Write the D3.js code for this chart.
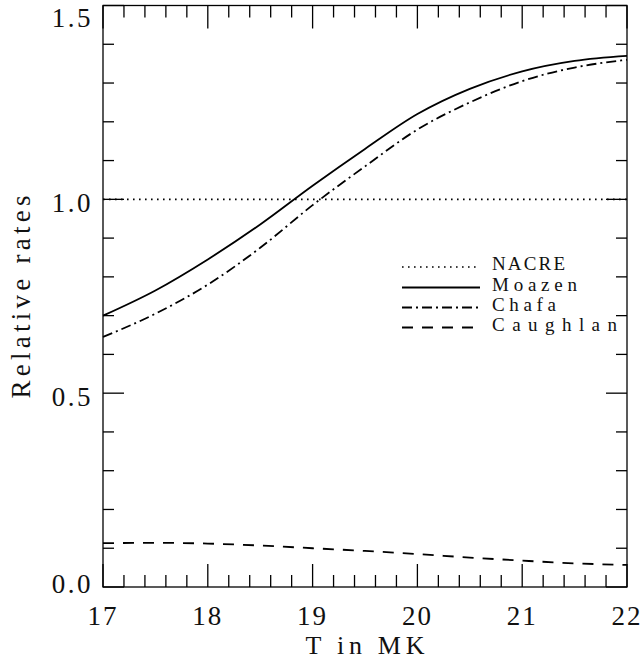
<!DOCTYPE html>
<html><head><meta charset="utf-8">
<script src="https://cdn.jsdelivr.net/npm/d3@7"></script>
<style>body{margin:0;background:#fff}svg{display:block}text{font-family:"Liberation Serif",serif;fill:#111}</style>
</head><body>
<script>
const temps    = [17, 17.5, 18, 18.5, 19, 19.5, 20, 20.5, 21, 21.5, 22];
const nacre    = [1, 1, 1, 1, 1, 1, 1, 1, 1, 1, 1];
const moazen   = [0.700, 0.765, 0.845, 0.935, 1.035, 1.130, 1.220, 1.285, 1.330, 1.357, 1.370];
const chafa    = [0.645, 0.705, 0.780, 0.875, 0.985, 1.085, 1.180, 1.250, 1.305, 1.340, 1.360];
const caughlan = [0.113, 0.114, 0.112, 0.107, 0.100, 0.093, 0.085, 0.076, 0.068, 0.061, 0.057];
const seriesNames = ["NACRE", "Moazen", "Chafa", "Caughlan"];
const xTicks = [17, 18, 19, 20, 21, 22];
const yTicks = [0.0, 0.5, 1.0, 1.5];

const W = 644, H = 661;
const svg = d3.select("body").append("svg").attr("width", W).attr("height", H);
const x = d3.scaleLinear().domain([17, 22]).range([103, 627]);
const y = d3.scaleLinear().domain([0, 1.5]).range([587, 5.5]);

const styles = {
  NACRE:    {dash: "1.6,4.4", w: 1.6},
  Moazen:   {dash: null, w: 1.8},
  Chafa:    {dash: "10,4,2,4", w: 1.8},
  Caughlan: {dash: "11,9", w: 1.8}
};
const data = {NACRE: nacre, Moazen: moazen, Chafa: chafa, Caughlan: caughlan};

const line = d3.line().x((d, i) => x(temps[i])).y(d => y(d)).curve(d3.curveMonotoneX);
seriesNames.forEach(n => {
  svg.append("path").attr("d", line(data[n])).attr("fill", "none")
    .attr("stroke", "#000").attr("stroke-width", styles[n].w)
    .attr("stroke-dasharray", styles[n].dash);
});

// frame
const g = svg.append("g").attr("stroke", "#000").attr("stroke-width", 1.3).attr("fill", "none");
g.append("rect").attr("x", x(17)).attr("y", y(1.5)).attr("width", x(22) - x(17)).attr("height", y(0) - y(1.5));

// ticks
const xMinor = d3.range(17, 22.001, 0.2);
xMinor.forEach(v => {
  const major = Math.abs(v - Math.round(v)) < 1e-6;
  const len = major ? 23 : 12;
  g.append("line").attr("x1", x(v)).attr("x2", x(v)).attr("y1", y(0)).attr("y2", y(0) - len);
  g.append("line").attr("x1", x(v)).attr("x2", x(v)).attr("y1", y(1.5)).attr("y2", y(1.5) + len);
});
const yMinor = d3.range(0, 1.5001, 0.1);
yMinor.forEach(v => {
  const major = Math.abs(v * 2 - Math.round(v * 2)) < 1e-6;
  const len = major ? 21 : 11;
  g.append("line").attr("y1", y(v)).attr("y2", y(v)).attr("x1", x(17)).attr("x2", x(17) + len);
  g.append("line").attr("y1", y(v)).attr("y2", y(v)).attr("x1", x(22)).attr("x2", x(22) - len);
});

// tick labels
svg.selectAll(".xl").data(xTicks).enter().append("text")
  .attr("x", d => x(d)).attr("y", 625).attr("text-anchor", "middle")
  .attr("font-size", 27).attr("letter-spacing", 2).text(d => d);
svg.selectAll(".yl").data(yTicks).enter().append("text")
  .attr("x", 93).attr("y", d => Math.min(Math.max(y(d) + 3.5, 17), 583) + 9.5)
  .attr("text-anchor", "end").attr("font-size", 27).attr("letter-spacing", 2.5)
  .text(d => d.toFixed(1));

// axis titles
svg.append("text").attr("x", 365).attr("y", 654).attr("text-anchor", "middle")
  .attr("font-size", 26).attr("textLength", 119).attr("lengthAdjust", "spacing").text("T in MK");
svg.append("text").attr("transform", "translate(30,297) rotate(-90)").attr("text-anchor", "middle")
  .attr("font-size", 27).attr("textLength", 203).attr("lengthAdjust", "spacing").text("Relative rates");

// legend
const legY = [267, 287.5, 307.5, 327.5];
const legW = {NACRE: 73, Moazen: 85, Chafa: 64, Caughlan: 125};
seriesNames.forEach((n, i) => {
  svg.append("line").attr("x1", 402).attr("x2", 480).attr("y1", legY[i]).attr("y2", legY[i])
    .attr("stroke", "#000").attr("stroke-width", styles[n].w).attr("stroke-dasharray", styles[n].dash);
  svg.append("text").attr("x", 492).attr("y", legY[i] + 3).attr("font-size", 19)
    .attr("textLength", legW[n]).attr("lengthAdjust", "spacing").text(n);
});
</script>
</body></html>
